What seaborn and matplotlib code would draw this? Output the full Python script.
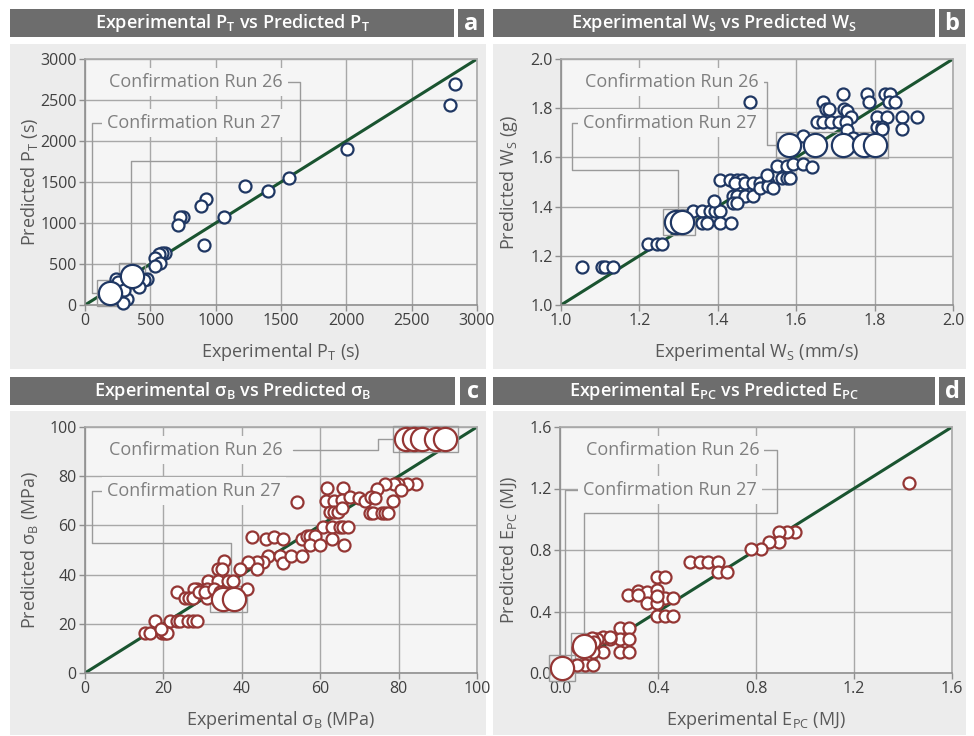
import numpy as np
import pandas as pd
import matplotlib
matplotlib.use('Agg')
import matplotlib.pyplot as plt
import seaborn as sns
from matplotlib.patches import Rectangle

# ---------------- data ----------------
# Panel a : P_T (s)
pt_exp = [2832, 2793, 2003, 1564, 1403, 1224, 1066, 926, 888, 908, 753, 727, 709, 612, 590,
          570, 536, 574, 536, 472, 455, 416, 237, 281, 319, 294, 250, 300]
pt_pred = [2691, 2435, 1898, 1549, 1390, 1455, 1077, 1297, 1203, 732, 1077, 1069, 980, 630, 640,
           625, 569, 508, 475, 321, 310, 224, 313, 232, 69, 20, 280, 180]
pt_run26_exp, pt_run26_pred = [360], [354]
pt_run27_exp, pt_run27_pred = [191], [146]

# Panel b : W_S
ws_exp = [1.054, 1.104, 1.112, 1.133, 1.223, 1.244, 1.257, 1.338, 1.359, 1.380, 1.393, 1.406,
          1.359, 1.372, 1.406, 1.434, 1.391, 1.406, 1.431, 1.448, 1.461, 1.444, 1.469, 1.491,
          1.508, 1.529, 1.439, 1.448, 1.469, 1.491, 1.439, 1.448, 1.508, 1.529, 1.542, 1.526,
          1.550, 1.576, 1.593, 1.618, 1.640, 1.563, 1.576, 1.584, 1.618, 1.482, 1.669, 1.676,
          1.684, 1.720, 1.722, 1.729, 1.741, 1.652, 1.669, 1.690, 1.710, 1.727, 1.729, 1.745,
          1.780, 1.786, 1.827, 1.839, 1.837, 1.852, 1.805, 1.832, 1.805, 1.820, 1.820, 1.871,
          1.871, 1.909]
ws_pred = [1.154, 1.154, 1.154, 1.154, 1.248, 1.248, 1.248, 1.382, 1.382, 1.382, 1.382, 1.382,
           1.332, 1.332, 1.332, 1.332, 1.424, 1.507, 1.507, 1.507, 1.507, 1.495, 1.495, 1.495,
           1.495, 1.495, 1.443, 1.443, 1.443, 1.443, 1.413, 1.413, 1.474, 1.482, 1.474, 1.528,
           1.567, 1.567, 1.572, 1.572, 1.560, 1.515, 1.515, 1.515, 1.687, 1.826, 1.826, 1.795,
           1.795, 1.856, 1.795, 1.790, 1.763, 1.743, 1.743, 1.743, 1.743, 1.743, 1.710, 1.680,
           1.856, 1.826, 1.856, 1.856, 1.826, 1.826, 1.765, 1.765, 1.722, 1.722, 1.714, 1.765,
           1.714, 1.765]
ws_run26_exp = [1.582, 1.648, 1.720, 1.773, 1.801]
ws_run26_pred = [1.652, 1.652, 1.652, 1.652, 1.652]
ws_run27_exp = [1.293, 1.309]
ws_run27_pred = [1.336, 1.336]

# Panel c : sigma_B (MPa)
sb_exp = [84.4, 82.1, 79.9, 78.7, 76.5, 74.4, 80.5, 61.7, 65.9, 54.0, 61.5, 63.5, 65.5, 67.5,
          70.0, 71.5, 73.0, 74.0, 78.5, 62.5, 63.5, 64.5, 65.5, 72.7, 73.5, 75.7, 76.5, 77.4,
          60.8, 62.9, 65.1, 65.9, 67.2, 63.0, 66.0, 42.5, 46.1, 48.3, 50.6, 55.3, 56.6, 57.4,
          58.7, 57.4, 59.9, 46.8, 49.7, 50.6, 52.6, 55.3, 45.5, 43.8, 41.7, 39.5, 43.8, 35.5,
          34.0, 34.9, 31.5, 34.0, 36.6, 37.8, 41.2, 31.0, 31.0, 28.5, 27.8, 23.5, 25.5, 26.5,
          27.5, 29.0, 30.5, 33.0, 34.5, 17.9, 21.7, 23.4, 24.2, 26.4, 27.6, 28.5, 15.3, 16.6,
          19.6, 20.4, 20.8, 19.3]
sb_pred = [76.8, 76.8, 76.8, 76.8, 76.8, 75.0, 74.5, 75.1, 75.1, 69.5, 70.0, 69.8, 70.2, 71.5,
           71.0, 70.0, 71.5, 71.0, 69.8, 65.6, 65.6, 65.6, 67.0, 65.0, 65.0, 65.0, 65.0, 65.0,
           59.5, 59.5, 59.5, 59.5, 59.5, 54.3, 52.0, 55.4, 54.5, 55.4, 54.5, 54.5, 55.5, 55.5,
           55.5, 52.0, 52.0, 47.7, 47.7, 44.8, 47.7, 47.7, 45.3, 45.3, 45.3, 42.1, 42.1, 45.5,
           42.1, 42.1, 37.5, 37.5, 37.5, 37.5, 34.1, 34.0, 30.5, 34.0, 34.0, 33.0, 30.5, 30.5,
           30.5, 33.0, 33.0, 34.0, 33.0, 21.1, 21.1, 21.1, 21.1, 21.1, 21.1, 21.1, 16.4, 16.4,
           16.4, 16.4, 16.4, 18.0]
sb_run26_exp = [82.0, 84.0, 86.0, 89.5, 91.8]
sb_run26_pred = [95.0, 95.0, 95.0, 95.0, 95.0]
sb_run27_exp = [35.3, 38.1]
sb_run27_pred = [30.0, 30.0]

# Panel d : E_PC (MJ)
ep_exp = [1.426, 0.959, 0.928, 0.894, 0.894, 0.853, 0.820, 0.780, 0.531, 0.571, 0.605, 0.646,
          0.646, 0.680, 0.394, 0.429, 0.279, 0.320, 0.354, 0.394, 0.429, 0.460, 0.354, 0.394,
          0.320, 0.394, 0.394, 0.429, 0.460, 0.245, 0.282, 0.245, 0.282, 0.204, 0.177, 0.204,
          0.150, 0.245, 0.282, 0.177, 0.136, 0.130, 0.140, 0.102, 0.068, 0.136, 0.075, 0.120]
ep_pred = [1.238, 0.919, 0.919, 0.919, 0.854, 0.854, 0.804, 0.804, 0.720, 0.720, 0.720, 0.720,
           0.655, 0.655, 0.622, 0.622, 0.507, 0.533, 0.529, 0.540, 0.486, 0.486, 0.457, 0.457,
           0.510, 0.500, 0.371, 0.371, 0.371, 0.291, 0.291, 0.219, 0.219, 0.219, 0.235, 0.235,
           0.220, 0.139, 0.139, 0.139, 0.139, 0.230, 0.200, 0.052, 0.052, 0.052, 0.160, 0.195]
ep_run26_exp = [0.099]
ep_run26_pred = [0.178]
ep_run27_exp = [0.007]
ep_run27_pred = [0.031]

# axis settings
pt_ticks = [0, 500, 1000, 1500, 2000, 2500, 3000]
ws_ticks = [1.0, 1.2, 1.4, 1.6, 1.8, 2.0]
sb_ticks = [0, 20, 40, 60, 80, 100]
ep_ticks = [0.0, 0.4, 0.8, 1.2, 1.6]

# ---------------- style ----------------
sns.set_theme(style='white')
plt.rcParams['font.family'] = ['Open Sans', 'DejaVu Sans']
plt.rcParams['mathtext.default'] = 'regular'

PANEL_BG = '#ececec'
PLOT_BG = '#f5f5f5'
HEADER = '#6d6d6d'
GRID = '#a8a8a8'
SPINE = '#8f8f8f'
NAVY = '#1f3763'
RED = '#943634'
GREEN = '#1a5430'
TICK_TXT = '#404040'
LABEL_TXT = '#595959'
ANN_TXT = '#7f7f7f'
LEADER = '#9a9a9a'

W, H = 974, 736
fig = plt.figure(figsize=(W / 100, H / 100), dpi=100)
fig.patch.set_facecolor('white')


def fig_rect(x0, y0, x1, y1, color):
    fig.patches.append(Rectangle((x0 / W, 1 - y1 / H), (x1 - x0) / W, (y1 - y0) / H,
                                 transform=fig.transFigure, facecolor=color,
                                 edgecolor='none', zorder=-5))


def header(x0, y0, x1, y1, lx0, lx1, title, letter):
    fig_rect(x0, y0, x1, y1, HEADER)
    fig_rect(lx0, y0, lx1, y1, HEADER)
    fig.text((x0 + x1) / 2 / W, 1 - (y0 + y1) / 2 / H, title, color='white',
             fontsize=13, fontweight='semibold', ha='center', va='center')
    fig.text((lx0 + lx1) / 2 / W, 1 - (y0 + y1) / 2 / H - 0.002, letter, color='white',
             fontsize=17, fontweight='bold', ha='center', va='center')


def make_axes(x0, y0, x1, y1):
    return fig.add_axes([x0 / W, 1 - y1 / H, (x1 - x0) / W, (y1 - y0) / H])


SMALL = 75
BIG = 280


def draw_panel(ax, ex, ey, r26x, r26y, r27x, r27y, ticks, fmt, color,
               xlabel, ylabel, ann, ylab_x):
    lo, hi = ticks[0], ticks[-1]
    ax.set_facecolor(PLOT_BG)
    sns.lineplot(x=[lo, hi], y=[lo, hi], ax=ax, color=GREEN, linewidth=2.2, zorder=2)
    sns.scatterplot(x=ex, y=ey, ax=ax, s=SMALL, color='white', edgecolor=color,
                    linewidth=1.6, zorder=5, clip_on=False)
    sns.scatterplot(x=r27x, y=r27y, ax=ax, s=BIG, color='white', edgecolor=color,
                    linewidth=1.6, zorder=6, clip_on=False)
    sns.scatterplot(x=r26x, y=r26y, ax=ax, s=BIG, color='white', edgecolor=color,
                    linewidth=1.6, zorder=6, clip_on=False)
    ax.set_xlim(lo, hi)
    ax.set_ylim(lo, hi)
    ax.set_xticks(ticks)
    ax.set_yticks(ticks)
    ax.set_xticklabels([fmt.format(t) for t in ticks])
    ax.set_yticklabels([fmt.format(t) for t in ticks])
    ax.tick_params(bottom=True, left=True, length=4, width=1, color=SPINE,
                   labelsize=11.5, labelcolor=TICK_TXT, pad=2)
    ax.grid(True, color=GRID, linewidth=1.0)
    ax.set_axisbelow(True)
    for name, sp in ax.spines.items():
        sp.set_visible(True)
        sp.set_color(GRID if name in ('top', 'right') else SPINE)
        sp.set_linewidth(1.2)
    ax.set_xlabel(xlabel, fontsize=13, color=LABEL_TXT)
    ax.set_ylabel(ylabel, fontsize=13, color=LABEL_TXT)
    ax.xaxis.set_label_coords(0.5, -0.145)
    ax.yaxis.set_label_coords(ylab_x, 0.5)

    # boxes around confirmation runs + leader lines (axes fraction)
    pad_x, pad_y = 13 / 392, 13 / 246

    def box(xs, ys):
        fx = [(v - lo) / (hi - lo) for v in xs]
        fy = [(v - lo) / (hi - lo) for v in ys]
        return min(fx) - pad_x, min(fy) - pad_y, max(fx) + pad_x, max(fy) + pad_y

    boxes = {'26': box(r26x, r26y), '27': box(r27x, r27y)}
    for key, (tx, ty, ha, path, end) in ann.items():
        bx0, by0, bx1, by1 = boxes[key]
        ax.add_patch(Rectangle((bx0, by0), bx1 - bx0, by1 - by0, transform=ax.transAxes,
                               fill=False, edgecolor=LEADER, linewidth=1.0, zorder=3,
                               clip_on=False))
        pts = list(path)
        lx, ly = pts[-1]
        if end == 'down':
            pts.append((lx, by1))
        else:
            pts.append((bx0, ly))
        ax.plot([p[0] for p in pts], [p[1] for p in pts], transform=ax.transAxes,
                color=LEADER, linewidth=1.0, zorder=3, clip_on=False)
        ax.text(tx, ty, 'Confirmation Run ' + key, transform=ax.transAxes, ha=ha,
                va='center', fontsize=13, color=ANN_TXT, zorder=4,
                bbox=dict(boxstyle='square,pad=0.28', facecolor=PLOT_BG, edgecolor='none'))


# panel backgrounds and headers
fig_rect(10, 44, 486, 369, PANEL_BG)
fig_rect(493, 44, 966, 369, PANEL_BG)
fig_rect(10, 411, 486, 735, PANEL_BG)
fig_rect(493, 411, 966, 735, PANEL_BG)
header(10, 9, 454, 37, 458, 484, 'Experimental $P_T$ vs Predicted $P_T$', 'a')
header(493, 9, 935, 37, 939, 965, 'Experimental $W_S$ vs Predicted $W_S$', 'b')
header(10, 377, 455, 405, 460, 486, 'Experimental σ$_B$ vs Predicted σ$_B$', 'c')
header(493, 377, 935, 405, 939, 965, 'Experimental $E_{PC}$ vs Predicted $E_{PC}$', 'd')

ax_a = make_axes(85, 59, 477, 305)
ax_b = make_axes(561, 59, 953, 305)
ax_c = make_axes(85, 427, 477, 673)
ax_d = make_axes(560, 427, 952, 673)

draw_panel(ax_a, pt_exp, pt_pred, pt_run26_exp, pt_run26_pred, pt_run27_exp, pt_run27_pred,
           pt_ticks, '{:d}', NAVY, 'Experimental $P_T$ (s)', 'Predicted $P_T$ (s)',
           {'26': (0.505, 0.907, 'right',
                   [(0.515, 0.907), (0.548, 0.907), (0.548, 0.585), (0.117, 0.585)], 'down'),
            '27': (0.056, 0.74, 'left',
                   [(0.051, 0.74), (0.018, 0.74), (0.018, 0.049)], 'right')},
           -0.115)
draw_panel(ax_b, ws_exp, ws_pred, ws_run26_exp, ws_run26_pred, ws_run27_exp, ws_run27_pred,
           ws_ticks, '{:.1f}', NAVY, 'Experimental $W_S$ (mm/s)', 'Predicted $W_S$ (g)',
           {'26': (0.505, 0.907, 'right',
                   [(0.515, 0.907), (0.526, 0.907), (0.526, 0.652)], 'right'),
            '27': (0.056, 0.74, 'left',
                   [(0.051, 0.74), (0.028, 0.74), (0.028, 0.549), (0.298, 0.549)], 'down')},
           -0.105)
draw_panel(ax_c, sb_exp, sb_pred, sb_run26_exp, sb_run26_pred, sb_run27_exp, sb_run27_pred,
           sb_ticks, '{:d}', RED, 'Experimental σ$_B$ (MPa)', 'Predicted σ$_B$ (MPa)',
           {'26': (0.505, 0.907, 'right',
                   [(0.53, 0.907), (0.747, 0.907), (0.747, 0.951)], 'right'),
            '27': (0.056, 0.74, 'left',
                   [(0.051, 0.74), (0.018, 0.74), (0.018, 0.528), (0.372, 0.528)], 'down')},
           -0.115)
draw_panel(ax_d, ep_exp, ep_pred, ep_run26_exp, ep_run26_pred, ep_run27_exp, ep_run27_pred,
           ep_ticks, '{:.1f}', RED, 'Experimental $E_{PC}$ (MJ)', 'Predicted $E_{PC}$ (MJ)',
           {'26': (0.508, 0.907, 'right',
                   [(0.512, 0.907), (0.554, 0.907), (0.554, 0.652), (0.061, 0.652)], 'down'),
            '27': (0.059, 0.744, 'left',
                   [(0.054, 0.744), (0.013, 0.744)], 'down')},
           -0.105)

fig.savefig('out.png', dpi=100, facecolor='white')
